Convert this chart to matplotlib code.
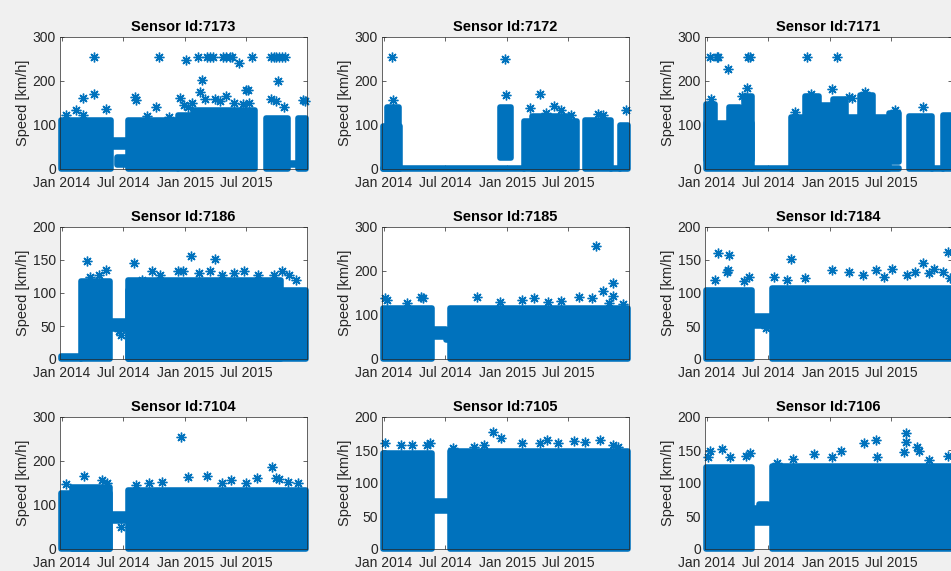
import numpy as np
import matplotlib
matplotlib.use("Agg")
import matplotlib.pyplot as plt

plt.rcParams['font.family'] = ['Liberation Sans', 'DejaVu Sans']

BLUE = '#0072BD'
TXT = '#262626'

sensor_ids = ['7173', '7172', '7171', '7186', '7185', '7184', '7104', '7105', '7106']
y_max = [300, 300, 300, 200, 300, 200, 300, 200, 200]
y_step = [100, 100, 100, 50, 100, 50, 100, 50, 50]
x_range = ['2013-12-27', '2015-12-27']
x_ticks = ['2014-01-01', '2014-07-01', '2015-01-01', '2015-07-01']
x_tick_labels = ['Jan 2014', 'Jul 2014', 'Jan 2015', 'Jul 2015']

# dense regions of points: (start, end, low speed, high speed)
blocks_7173 = [('2013-12-29', '2014-05-27', 0, 112), ('2014-05-27', '2014-07-10', 50, 66),
               ('2014-06-13', '2014-07-21', 10, 27), ('2014-07-16', '2014-12-10', 0, 112),
               ('2014-12-10', '2015-01-25', 0, 122), ('2015-01-25', '2015-07-27', 0, 135),
               ('2015-08-29', '2015-11-01', 0, 115), ('2015-11-01', '2015-12-01', 9, 13),
               ('2015-12-01', '2015-12-25', 0, 115)]
stars_7173 = [('2014-04-06', 255), ('2014-04-06', 170), ('2014-03-05', 162), ('2014-02-13', 134),
              ('2014-03-05', 123), ('2014-05-11', 136), ('2014-01-14', 123), ('2014-08-05', 163),
              ('2014-08-10', 157), ('2014-10-16', 255), ('2014-10-06', 140), ('2014-12-16', 162),
              ('2015-01-02', 247), ('2015-02-08', 255), ('2015-03-05', 255), ('2015-03-15', 255),
              ('2015-03-24', 255), ('2015-04-23', 255), ('2015-05-03', 255), ('2015-05-13', 255),
              ('2015-05-18', 255), ('2015-06-09', 241), ('2015-07-18', 255), ('2015-02-20', 202),
              ('2015-02-13', 176), ('2015-07-01', 179), ('2015-07-05', 179), ('2015-05-03', 165),
              ('2015-09-13', 255), ('2015-09-20', 255), ('2015-09-27', 255), ('2015-10-05', 255),
              ('2015-10-15', 255), ('2015-10-22', 255), ('2015-10-01', 200), ('2015-09-13', 160),
              ('2015-09-25', 155), ('2015-10-20', 142), ('2015-12-16', 157), ('2015-12-20', 155),
              ('2014-12-28', 145), ('2015-01-10', 140), ('2015-01-20', 150), ('2015-02-28', 160),
              ('2015-03-30', 160), ('2015-04-15', 155), ('2015-05-25', 150), ('2015-06-20', 148),
              ('2015-07-10', 150), ('2014-09-10', 120), ('2014-11-15', 118)]

blocks_7172 = [('2013-12-29', '2014-02-18', 0, 97), ('2014-01-12', '2014-02-14', 20, 140),
               ('2013-12-29', '2015-02-20', 0, 3), ('2014-12-11', '2015-01-11', 25, 140),
               ('2015-02-20', '2015-07-26', 0, 110), ('2015-03-15', '2015-06-30', 0, 120),
               ('2015-08-19', '2015-11-03', 0, 112), ('2015-11-03', '2015-11-29', 0, 3),
               ('2015-11-29', '2015-12-25', 0, 100)]
stars_7172 = [('2014-01-25', 255), ('2014-01-28', 157), ('2014-12-26', 249), ('2014-12-28', 168),
              ('2015-03-08', 138), ('2015-04-08', 170), ('2015-05-18', 143), ('2015-06-08', 134),
              ('2015-04-25', 128), ('2015-07-10', 122), ('2015-09-25', 125), ('2015-10-10', 122),
              ('2015-12-18', 134)]

blocks_7171 = [('2013-12-29', '2014-05-16', 0, 105), ('2013-12-30', '2014-01-25', 20, 148),
               ('2014-03-08', '2014-04-10', 20, 140), ('2014-04-20', '2014-05-16', 20, 165),
               ('2014-05-16', '2015-07-24', 0, 3), ('2014-09-06', '2015-06-14', 0, 118),
               ('2014-10-20', '2014-11-30', 20, 165), ('2014-12-05', '2015-01-05', 20, 145),
               ('2015-01-10', '2015-02-16', 20, 158), ('2015-03-30', '2015-05-08', 20, 168),
               ('2015-06-14', '2015-06-24', 0, 75), ('2015-06-24', '2015-07-24', 15, 128),
               ('2015-08-22', '2015-10-30', 0, 120), ('2015-10-30', '2015-11-29', 0, 3),
               ('2015-11-29', '2015-12-25', 0, 122)]
stars_7171 = [('2014-01-10', 255), ('2014-01-30', 255), ('2014-02-04', 255), ('2014-03-06', 228),
              ('2014-05-03', 255), ('2014-05-10', 255), ('2014-05-01', 185), ('2014-01-15', 160),
              ('2014-04-15', 165), ('2014-10-25', 255), ('2015-01-20', 255), ('2015-01-07', 181),
              ('2015-02-26', 164), ('2015-03-05', 162), ('2014-11-05', 170), ('2015-04-15', 175),
              ('2015-07-12', 135), ('2015-10-01', 142), ('2014-09-20', 130)]

blocks_7186 = [('2013-12-29', '2014-02-28', 0, 4), ('2014-02-28', '2014-05-23', 0, 118),
               ('2014-05-23', '2014-07-16', 46, 57), ('2014-07-16', '2015-12-25', 0, 105),
               ('2014-07-16', '2015-10-10', 0, 120)]
stars_7186 = [('2014-03-18', 148), ('2014-05-11', 135), ('2014-08-03', 146), ('2015-01-17', 156),
              ('2015-03-29', 151), ('2014-03-25', 125), ('2014-04-20', 128), ('2014-08-25', 120),
              ('2014-09-25', 133), ('2014-10-20', 128), ('2014-12-10', 133), ('2014-12-25', 133),
              ('2015-02-10', 130), ('2015-03-15', 133), ('2015-04-20', 128), ('2015-05-25', 130),
              ('2015-06-25', 133), ('2015-08-05', 128), ('2015-09-20', 128), ('2015-10-15', 133),
              ('2015-11-05', 128), ('2015-11-25', 120), ('2014-06-25', 36), ('2014-06-20', 42)]

blocks_7185 = [('2013-12-29', '2014-05-23', 0, 117), ('2014-05-23', '2014-07-05', 50, 68),
               ('2014-07-05', '2014-07-16', 44, 60), ('2014-07-16', '2015-12-25', 0, 117)]
stars_7185 = [('2014-01-05', 138), ('2014-01-10', 135), ('2014-04-20', 140), ('2014-04-28', 138),
              ('2014-03-10', 128), ('2014-10-05', 140), ('2014-12-10', 130), ('2015-02-15', 135),
              ('2015-03-20', 138), ('2015-05-01', 130), ('2015-06-10', 132), ('2015-08-01', 140),
              ('2015-09-10', 138), ('2015-09-21', 256), ('2015-10-12', 155), ('2015-11-11', 172),
              ('2015-11-11', 143), ('2015-10-30', 128), ('2015-12-10', 125)]

blocks_7184 = [('2013-12-29', '2014-05-16', 0, 105), ('2014-05-16', '2014-07-14', 50, 65),
               ('2014-07-14', '2015-12-25', 0, 108)]
stars_7184 = [('2014-02-04', 160), ('2014-03-08', 157), ('2014-03-05', 135), ('2014-03-02', 132),
              ('2014-01-25', 120), ('2014-05-06', 124), ('2014-04-20', 118), ('2014-06-25', 47),
              ('2014-09-06', 152), ('2014-07-20', 124), ('2014-08-25', 120), ('2014-10-20', 122),
              ('2015-01-07', 135), ('2015-02-26', 132), ('2015-04-08', 128), ('2015-05-16', 135),
              ('2015-06-10', 125), ('2015-07-04', 137), ('2015-08-15', 128), ('2015-09-10', 132),
              ('2015-10-01', 145), ('2015-10-20', 130), ('2015-11-04', 136), ('2015-11-30', 132),
              ('2015-12-14', 162), ('2015-12-20', 122)]

blocks_7104 = [('2013-12-29', '2014-05-23', 0, 128), ('2014-02-01', '2014-05-23', 0, 140),
               ('2014-05-23', '2014-07-16', 64, 80), ('2014-07-16', '2015-12-25', 0, 135)]
stars_7104 = [('2014-01-13', 148), ('2014-03-09', 167), ('2014-04-30', 156), ('2014-05-15', 150),
              ('2014-06-25', 50), ('2014-08-10', 145), ('2014-09-15', 150), ('2014-10-25', 152),
              ('2014-12-21', 255), ('2015-01-09', 163), ('2015-03-05', 165), ('2015-04-20', 150),
              ('2015-05-16', 156), ('2015-07-01', 150), ('2015-08-01', 161), ('2015-09-16', 187),
              ('2015-09-25', 162), ('2015-10-05', 160), ('2015-11-01', 152), ('2015-12-01', 150)]

blocks_7105 = [('2013-12-29', '2014-05-23', 0, 146), ('2014-05-23', '2014-07-16', 57, 73),
               ('2014-07-16', '2015-12-25', 0, 149)]
stars_7105 = [('2014-01-05', 161), ('2014-02-20', 158), ('2014-03-25', 158), ('2014-05-10', 158),
              ('2014-05-18', 160), ('2014-02-25', 135), ('2014-07-25', 153), ('2014-09-25', 155),
              ('2014-10-25', 158), ('2014-11-19', 178), ('2014-12-14', 168), ('2015-02-15', 161),
              ('2015-04-08', 160), ('2015-04-30', 165), ('2015-06-01', 160), ('2015-07-16', 164),
              ('2015-08-20', 162), ('2015-10-03', 165), ('2015-11-11', 158), ('2015-11-25', 155),
              ('2015-06-05', 136)]

blocks_7106 = [('2013-12-29', '2014-05-16', 0, 124), ('2014-05-16', '2014-07-14', 40, 62),
               ('2014-06-05', '2014-06-30', 45, 68), ('2014-07-14', '2015-12-25', 0, 126)]
stars_7106 = [('2014-01-10', 149), ('2014-01-05', 140), ('2014-02-14', 152), ('2014-03-10', 140),
              ('2014-04-26', 141), ('2014-05-10', 146), ('2014-07-28', 131), ('2014-09-12', 137),
              ('2014-11-15', 144), ('2015-01-07', 139), ('2015-02-03', 148), ('2015-04-11', 160),
              ('2015-05-16', 165), ('2015-05-20', 140), ('2015-08-12', 176), ('2015-08-14', 162),
              ('2015-08-07', 147), ('2015-09-14', 154), ('2015-09-19', 149), ('2015-12-14', 141),
              ('2015-10-20', 135)]

all_blocks = [blocks_7173, blocks_7172, blocks_7171, blocks_7186, blocks_7185,
              blocks_7184, blocks_7104, blocks_7105, blocks_7106]
all_stars = [stars_7173, stars_7172, stars_7171, stars_7186, stars_7185,
             stars_7184, stars_7104, stars_7105, stars_7106]

W, H = 951, 571
fig = plt.figure(figsize=(W / 100, H / 100), dpi=100, facecolor='#f0f0f0')

col_left = [60, 382, 705]
row_top = [37, 227, 417]
ax_w, ax_h = 247, 132

for i, sid in enumerate(sensor_ids):
    r, c = divmod(i, 3)
    ax = fig.add_axes([col_left[c] / W, 1 - (row_top[r] + ax_h) / H, ax_w / W, ax_h / H])
    ax.set_facecolor('white')
    for s, e, lo, hi in all_blocks[i]:
        t = np.array([s, e], dtype='datetime64[D]')
        ax.fill_between(t, [lo, lo], [hi, hi], facecolor=BLUE, edgecolor=BLUE,
                        linewidth=4, joinstyle='round', clip_on=False, zorder=2)
    st = np.array([p[0] for p in all_stars[i]], dtype='datetime64[D]')
    sv = np.array([p[1] for p in all_stars[i]], dtype=float)
    ax.plot(st, sv, ls='none', marker=(8, 2, 0), ms=7, mew=1.0, color=BLUE,
            clip_on=False, zorder=3)
    ax.set_xlim(np.datetime64(x_range[0]), np.datetime64(x_range[1]))
    ax.set_ylim(0, y_max[i])
    ax.set_yticks(np.arange(0, y_max[i] + 1, y_step[i]))
    ax.set_xticks(np.array(x_ticks, dtype='datetime64[D]'))
    ax.set_xticklabels(x_tick_labels)
    ax.tick_params(direction='in', top=True, right=True, length=3, width=0.5,
                   colors=TXT, labelsize=10, labelcolor=TXT)
    ax.tick_params(axis='x', pad=5)
    ax.tick_params(axis='y', pad=3)
    for sp in ax.spines.values():
        sp.set_color('#262626')
        sp.set_linewidth(0.5)
        sp.set_zorder(4)
    ax.set_title(f'Sensor Id:{sid}', fontsize=10.5, fontweight='bold', color='black', pad=4)
    ax.set_ylabel('Speed [km/h]', fontsize=10.5, color=TXT, labelpad=2)

fig.savefig('out.png', dpi=100, facecolor=fig.get_facecolor())
